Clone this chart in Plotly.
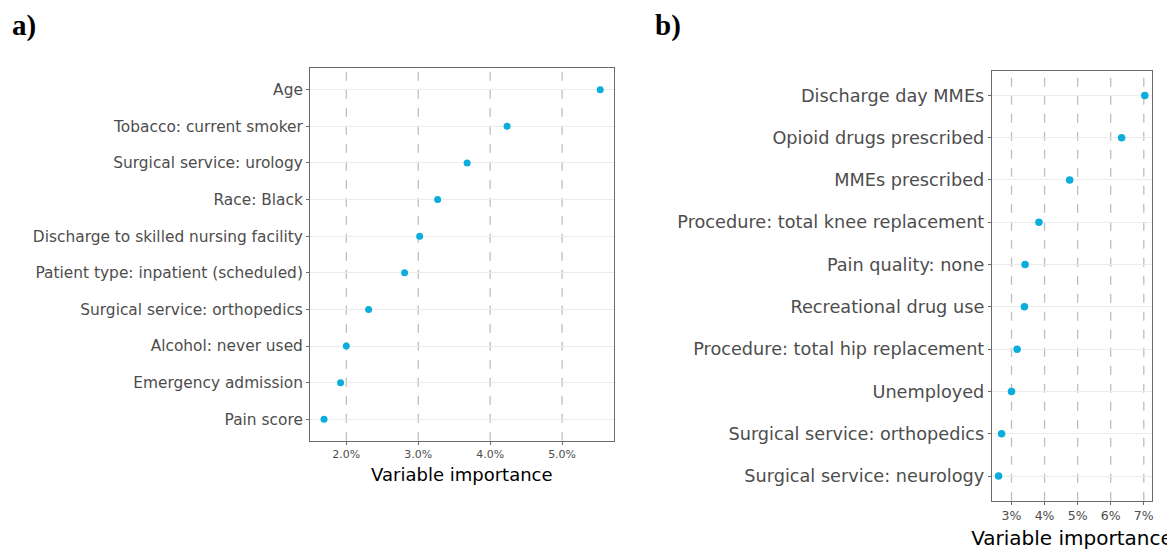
import plotly.graph_objects as go

# Panel a
a_labels = ["Age", "Tobacco: current smoker", "Surgical service: urology", "Race: Black",
            "Discharge to skilled nursing facility", "Patient type: inpatient (scheduled)",
            "Surgical service: orthopedics", "Alcohol: never used", "Emergency admission", "Pain score"]
a_values = [5.53, 4.235, 3.68, 3.27, 3.02, 2.81, 2.31, 2.00, 1.92, 1.69]
a_ticks = [2, 3, 4, 5]
a_ticktext = ["2.0%", "3.0%", "4.0%", "5.0%"]

# Panel b
b_labels = ["Discharge day MMEs", "Opioid drugs prescribed", "MMEs prescribed",
            "Procedure: total knee replacement", "Pain quality: none", "Recreational drug use",
            "Procedure: total hip replacement", "Unemployed", "Surgical service: orthopedics",
            "Surgical service: neurology"]
b_values = [7.03, 6.33, 4.76, 3.83, 3.41, 3.39, 3.17, 3.00, 2.70, 2.61]
b_ticks = [3, 4, 5, 6, 7]
b_ticktext = ["3%", "4%", "5%", "6%", "7%"]

COLOR = "#0AADDB"
FONT = "DejaVu Sans"
W, H = 1175, 553
OFF = 8  # page body margin


def px(x):
    return (x - OFF) / W


def py(y):
    return 1 - (y - OFF) / H


fig = go.Figure()
fig.add_trace(go.Scatter(x=a_values, y=a_labels, mode="markers",
                         marker=dict(color=COLOR, size=7), xaxis="x", yaxis="y",
                         showlegend=False, hoverinfo="x+y"))
fig.add_trace(go.Scatter(x=b_values, y=b_labels, mode="markers",
                         marker=dict(color=COLOR, size=7.5), xaxis="x2", yaxis="y2",
                         showlegend=False, hoverinfo="x+y"))

common_x = dict(showline=True, mirror=True, linecolor="#6b6b6b", linewidth=1,
                showgrid=False, zeroline=False, ticks="outside", ticklen=3,
                tickcolor="#6b6b6b")
common_y = dict(showline=True, mirror=True, linecolor="#6b6b6b", linewidth=1,
                showgrid=True, gridcolor="#EBEBEB", gridwidth=1, zeroline=False,
                ticks="outside", ticklen=3, tickcolor="#6b6b6b", type="category")

fig.update_layout(
    width=W, height=H, margin=dict(l=0, r=0, t=0, b=0),
    paper_bgcolor="white", plot_bgcolor="white",
    xaxis=dict(domain=[px(310.5), px(614.7)], range=[1.495, 5.717], anchor="y",
               tickvals=a_ticks, ticktext=a_ticktext,
               title=dict(text="Variable importance", font=dict(family=FONT, size=18, color="black"), standoff=8),
               tickfont=dict(family=FONT, size=11, color="#4d4d4d"), **common_x),
    yaxis=dict(domain=[py(440.7), py(68.3)], range=[-0.585, 9.585], anchor="x",
               categoryorder="array", categoryarray=a_labels[::-1],
               tickfont=dict(family=FONT, size=15.4, color="#4d4d4d"), **common_y),
    xaxis2=dict(domain=[px(993.5), px(1154)], range=[2.405, 7.25], anchor="y2",
                tickvals=b_ticks, ticktext=b_ticktext,
                title=dict(text="Variable importance", font=dict(family=FONT, size=20, color="black"), standoff=9),
                tickfont=dict(family=FONT, size=12.5, color="#4d4d4d"), **common_x),
    yaxis2=dict(domain=[py(500.7), py(70.7)], range=[-0.584, 9.584], anchor="x2",
                categoryorder="array", categoryarray=b_labels[::-1],
                tickfont=dict(family=FONT, size=17.7, color="#4d4d4d"), **common_y),
)

# dashed vertical gridlines
for v in a_ticks:
    fig.add_shape(type="line", xref="x", yref="y domain", x0=v, x1=v, y0=0, y1=1,
                  line=dict(color="#BEBEBE", width=1.3, dash="dash"), layer="below")
for v in b_ticks:
    fig.add_shape(type="line", xref="x2", yref="y2 domain", x0=v, x1=v, y0=0, y1=1,
                  line=dict(color="#BEBEBE", width=1.3, dash="dash"), layer="below")

fig.add_annotation(text="<b>a)</b>", x=px(10), y=py(25), xref="paper", yref="paper",
                   showarrow=False, xanchor="left", yanchor="middle",
                   font=dict(family="Liberation Serif", size=29, color="black"))
fig.add_annotation(text="<b>b)</b>", x=px(654), y=py(25), xref="paper", yref="paper",
                   showarrow=False, xanchor="left", yanchor="middle",
                   font=dict(family="Liberation Serif", size=29, color="black"))

fig.write_html("out.html")
